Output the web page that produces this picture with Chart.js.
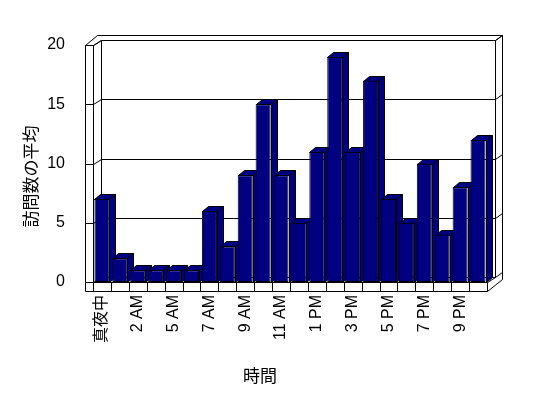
<!DOCTYPE html>
<html lang="ja">
<head>
<meta charset="UTF-8">
<title>時間別の訪問数</title>
<script src="https://cdn.jsdelivr.net/npm/chart.js"></script>
<style>
  html, body { margin: 0; padding: 0; background: #fff; }
</style>
</head>
<body>
<canvas id="chart" width="548" height="398"></canvas>
<script>
// data
const hours = ['真夜中', '1 AM', '2 AM', '3 AM', '5 AM', '6 AM', '7 AM', '8 AM', '9 AM', '10 AM', '11 AM',
               '12 PM', '1 PM', '2 PM', '3 PM', '4 PM', '5 PM', '6 PM', '7 PM', '8 PM', '9 PM', '10 PM'];
const visits = [7, 2, 1, 1, 1, 1, 6, 3, 9, 15, 9, 5, 11, 19, 11, 17, 7, 5, 10, 4, 8, 12];
const yTicks = [0, 5, 10, 15, 20];
const yTitle = '訪問数の平均';
const xTitle = '時間';

// 3D look
const WALL_DX = 8, WALL_DY = -5;
const BAR_DX = 6, BAR_DY = -5;
const SLAB = 8, FLOOR = 9;
const NAVY = '#000080';
const FONT = '"Liberation Sans", Arial, sans-serif';
const CJK = '"Noto Sans CJK JP", sans-serif';

function line(ctx, pts) {
    ctx.beginPath();
    pts.forEach(([px, py], i) => {
        const X = Math.round(px) + 0.5, Y = Math.round(py) + 0.5;
        if (i) ctx.lineTo(X, Y); else ctx.moveTo(X, Y);
    });
    ctx.stroke();
}

function poly(ctx, pts) {
    ctx.beginPath();
    pts.forEach(([px, py], i) => {
        const X = Math.round(px) + 0.5, Y = Math.round(py) + 0.5;
        if (i) ctx.lineTo(X, Y); else ctx.moveTo(X, Y);
    });
    ctx.closePath();
    ctx.fill();
    ctx.stroke();
}

const frame3d = {
    id: 'frame3d',
    beforeDatasetsDraw(chart) {
        const { ctx, chartArea: a, scales: { x, y } } = chart;
        const L = a.left, R = a.right, T = a.top, B = a.bottom;
        const bl = L + WALL_DX, br = R + WALL_DX, bt = T + WALL_DY, bb = B + WALL_DY;
        ctx.save();
        ctx.strokeStyle = '#000';
        ctx.lineWidth = 1;

        // outer outline
        line(ctx, [[L - SLAB, T], [bl - 4, bt - 5], [br + 7, bt - 5], [br + 7, B - 3], [R, B + FLOOR], [L - SLAB, B + FLOOR], [L - SLAB, T]]);
        // inner edges
        line(ctx, [[L - SLAB, T], [L, T], [bl, bt], [br, bt], [br + 7, bt - 5]]);
        line(ctx, [[L, T], [L, B], [R, B], [R, B + FLOOR]]);
        line(ctx, [[bl, bt], [bl, bb], [br, bb], [br, bt]]);
        line(ctx, [[R, B], [br, bb]]);

        // gridlines on the back wall
        yTicks.forEach(v => {
            const yy = y.getPixelForValue(v);
            line(ctx, [[L - SLAB, yy], [L, yy], [bl, yy + WALL_DY], [br, yy + WALL_DY], [br + 7, yy + WALL_DY - 5]]);
        });

        // floor cells
        for (let i = 0; i <= hours.length; i++) {
            const xx = x.getPixelForValue(i - 0.5);
            line(ctx, [[xx, B], [xx, B + FLOOR]]);
        }

        // bar tops and sides
        ctx.fillStyle = NAVY;
        chart.getDatasetMeta(0).data.forEach(bar => {
            const { x: cx, y: top, base, width } = bar.getProps(['x', 'y', 'base', 'width'], true);
            const x0 = cx - width / 2, x1 = cx + width / 2;
            poly(ctx, [[x1, base], [x1, top], [x1 + BAR_DX, top + BAR_DY], [x1 + BAR_DX, base + BAR_DY]]);
            poly(ctx, [[x0, top], [x0 + BAR_DX, top + BAR_DY], [x1 + BAR_DX, top + BAR_DY], [x1, top]]);
        });
        ctx.restore();
    },
    afterDraw(chart) {
        const { ctx, chartArea: a } = chart;
        ctx.save();
        ctx.fillStyle = '#000';
        ctx.font = '17px ' + CJK;
        ctx.textAlign = 'center';
        ctx.textBaseline = 'middle';
        ctx.fillText(xTitle, (a.left + a.right) / 2 - 30, 376);
        ctx.translate(a.left - 62, (a.top + a.bottom) / 2 + 13);
        ctx.rotate(-Math.PI / 2);
        ctx.fillText(yTitle, 0, 0);
        ctx.restore();
    }
};

new Chart(document.getElementById('chart'), {
    type: 'bar',
    data: {
        labels: hours,
        datasets: [{
            data: visits,
            backgroundColor: NAVY,
            borderColor: '#000',
            borderWidth: 1,
            borderSkipped: false,
            barPercentage: 0.84,
            categoryPercentage: 1.0
        }]
    },
    options: {
        responsive: false,
        animation: false,
        layout: { padding: { top: 45, right: 61, left: 0, bottom: 0 } },
        plugins: { legend: { display: false }, tooltip: { enabled: false } },
        scales: {
            x: {
                offset: true,
                grid: { display: false },
                border: { display: false },
                ticks: {
                    autoSkip: false,
                    minRotation: 90,
                    maxRotation: 90,
                    padding: 5,
                    color: '#000',
                    font: { family: FONT + ', ' + CJK, size: 16 },
                    callback: function (v, i) { return i % 2 === 0 ? this.getLabelForValue(v) : ''; }
                },
                afterFit: s => { s.height = 116; }
            },
            y: {
                min: 0,
                max: 20,
                grid: { display: false },
                border: { display: false },
                ticks: {
                    stepSize: 5,
                    padding: 20,
                    color: '#000',
                    font: { family: FONT, size: 16 }
                },
                afterFit: s => { s.width = 93; }
            }
        }
    },
    plugins: [frame3d]
});
</script>
</body>
</html>
